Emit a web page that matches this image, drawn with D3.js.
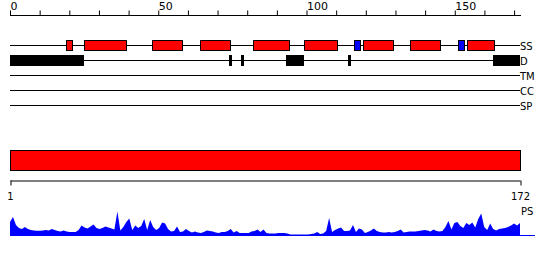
<!DOCTYPE html>
<html>
<head>
<meta charset="utf-8">
<script src="https://cdn.jsdelivr.net/npm/d3@7"></script>
<style>
  body { margin: 0; background: #fff; }
  text { font-family: "DejaVu Sans", Verdana, sans-serif; font-size: 10px; fill: #000; }
</style>
</head>
<body>
<div id="chart"></div>
<script>
// sequence length and track names
const seqLength = 172;
const tracks = ["SS", "D", "TM", "CC", "SP"];

// secondary structure: helices (red) and strands (blue), [start, end]
const helices = [[19, 21], [25, 39], [48, 58], [64, 74], [82, 94], [99, 110], [119, 129], [135, 145], [154, 163]];
const strands = [[116, 118], [151, 153]];

// disordered regions
const disorder = [[0, 25], [74, 75], [78, 79], [93, 99], [114, 115], [163, 172]];

// domain bar covering the whole chain
const domains = [[1, 172]];

// ps profile, one value per residue
const psValues = [
  14, 19, 11, 8, 7, 9, 7, 6, 5.5, 5.3, 5.3, 5.5, 6, 5.5, 7, 6, 5, 4.5, 5.5, 4.5,
  4, 4, 4, 6, 10.5, 8.5, 7.5, 9.5, 11.5, 8, 7, 8, 9.5, 8.5, 7.5, 6.5, 24.5, 5.5, 9, 14,
  17.5, 6, 10.5, 8, 10, 17, 6, 16, 9, 6, 8, 13.5, 12.5, 7, 4.5, 5, 9.5, 4, 4.5, 7,
  5, 3.5, 4.5, 3.5, 3, 4, 5.5, 5, 4.5, 3.5, 3, 4, 4, 5, 7, 3.5, 5, 3, 3, 3,
  3, 4.5, 5, 6.5, 4, 6.5, 3, 2.5, 2.5, 2.5, 3, 3, 3, 2.5, 1.5, 1.5, 1.5, 1.5, 1.5, 1.5,
  1.5, 2, 2.5, 4, 2, 2.5, 5, 18, 4, 6, 7.5, 8.5, 5, 5, 5.5, 11, 4, 7.5, 6.5, 3,
  4, 5.5, 7.5, 5, 4, 3.5, 3.5, 4, 3.5, 4, 5, 6.5, 3.5, 4, 4.5, 4.5, 4.5, 5, 5.5, 6,
  5.5, 4.5, 6.5, 5, 4.5, 5, 9, 15, 6.5, 13, 14, 10, 8, 13, 11, 13.5, 8.5, 17, 22.5, 9,
  6, 12.5, 7, 5.5, 7, 7.5, 8, 9, 10.5, 12.5, 10.5, 13
];
const psMax = 25;

const svg = d3
  .select("#chart")
  .append("svg")
  .attr("width", 550)
  .attr("height", 260);

// scales
const x = d3.scaleLinear().domain([0, seqLength]).range([10, 520]);
const xRes = d3.scaleLinear().domain([1, seqLength]).range([10, 520]);
const y = d3.scalePoint().domain(tracks).range([45.5, 105.5]);
const yPS = d3.scaleLinear().domain([0, psMax]).range([236, 211]);

// top ruler
const topAxis = svg
  .append("g")
  .attr("transform", "translate(0,15.5)")
  .call(d3.axisTop(x).tickValues(d3.range(0, seqLength, 10)).tickSize(5).tickSizeOuter(0).tickFormat((d) => (d % 50 === 0 ? d : "")));
topAxis.select(".domain").attr("stroke", "#000").attr("d", `M${x(0)},0H${x(seqLength) + 1}`);
topAxis.selectAll(".tick line").attr("stroke", "#000");
topAxis
  .selectAll(".tick text")
  .attr("text-anchor", "start")
  .attr("font-family", null)
  .attr("font-size", null)
  .attr("y", -6)
  .attr("dy", 0)
  .style("font-size", "11px");

// track lines and labels
svg
  .selectAll(".track")
  .data(tracks)
  .join("line")
  .attr("class", "track")
  .attr("x1", x(0))
  .attr("x2", x(seqLength))
  .attr("y1", (d) => y(d))
  .attr("y2", (d) => y(d))
  .attr("stroke", "#000")
  .attr("shape-rendering", "crispEdges");

svg
  .selectAll(".trackLabel")
  .data(tracks)
  .join("text")
  .attr("class", "trackLabel")
  .attr("x", x(seqLength))
  .attr("y", (d) => y(d) + 4)
  .text((d) => d);

// helices and strands
svg
  .selectAll(".helix")
  .data(helices)
  .join("rect")
  .attr("class", "helix")
  .attr("x", (d) => Math.round(x(d[0])) + 0.5)
  .attr("y", y("SS") - 5)
  .attr("width", (d) => Math.round(x(d[1]) - x(d[0])))
  .attr("height", 10)
  .attr("fill", "#ff0000")
  .attr("stroke", "#000");

svg
  .selectAll(".strand")
  .data(strands)
  .join("rect")
  .attr("class", "strand")
  .attr("x", (d) => Math.round(x(d[0])) + 0.5)
  .attr("y", y("SS") - 5)
  .attr("width", (d) => Math.round(x(d[1]) - x(d[0])))
  .attr("height", 10)
  .attr("fill", "#0000ff")
  .attr("stroke", "#000");

// disorder blocks
svg
  .selectAll(".dis")
  .data(disorder)
  .join("rect")
  .attr("class", "dis")
  .attr("x", (d) => Math.round(x(d[0])))
  .attr("y", y("D") - 5.5)
  .attr("width", (d) => Math.max(2, Math.round(x(d[1]) - x(d[0]))))
  .attr("height", 11)
  .attr("fill", "#000");

// domain bar
svg
  .selectAll(".domain-bar")
  .data(domains)
  .join("rect")
  .attr("class", "domain-bar")
  .attr("x", (d) => xRes(d[0]) + 0.5)
  .attr("y", 150.5)
  .attr("width", (d) => xRes(d[1]) - xRes(d[0]))
  .attr("height", 20)
  .attr("fill", "#ff0000")
  .attr("stroke", "#000");

// bottom ruler
const bottomAxis = svg
  .append("g")
  .attr("transform", "translate(0,180.5)")
  .call(d3.axisBottom(xRes).tickValues([1, seqLength]).tickSize(5).tickSizeOuter(0));
bottomAxis.select(".domain").attr("stroke", "#000");
bottomAxis.selectAll(".tick line").attr("stroke", "#000").attr("transform", "translate(0.5,0)");
bottomAxis
  .selectAll(".tick text")
  .attr("font-family", null)
  .attr("font-size", null)
  .attr("y", 19)
  .attr("dy", 0);

// ps profile
svg
  .append("path")
  .datum(psValues)
  .attr("fill", "#0000ff")
  .attr("d", d3.area().x((d, i) => xRes(i + 1)).y0(yPS(0)).y1((d) => yPS(d)));

svg
  .append("line")
  .attr("x1", 10)
  .attr("x2", 535)
  .attr("y1", 235.5)
  .attr("y2", 235.5)
  .attr("stroke", "#0000ff");

svg
  .append("text")
  .attr("x", xRes(seqLength) + 1)
  .attr("y", 215)
  .text("PS");
</script>
</body>
</html>
